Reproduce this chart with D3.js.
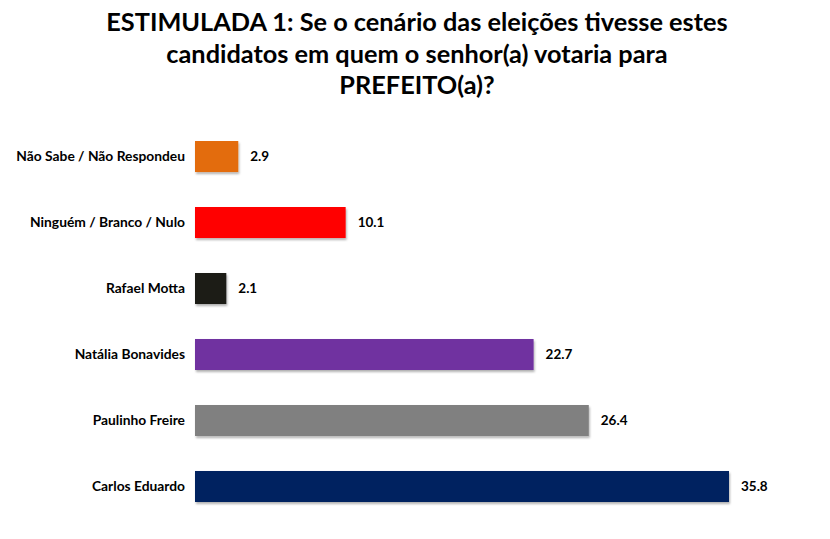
<!DOCTYPE html>
<html>
<head>
<meta charset="utf-8">
<script src="https://cdn.jsdelivr.net/npm/d3@7"></script>
<style>
  body { margin: 0; background: #fff; }
  text { font-family: Lato, "Open Sans", sans-serif; font-weight: bold; fill: #000; }
</style>
</head>
<body>
<div id="chart"></div>
<script>
// chart values, top to bottom as in the picture
var categories = ["Não Sabe / Não Respondeu", "Ninguém / Branco / Nulo", "Rafael Motta",
  "Natália Bonavides", "Paulinho Freire", "Carlos Eduardo"];
var values = [2.9, 10.1, 2.1, 22.7, 26.4, 35.8];
var barColors = ["#E36C0A", "#FF0000", "#1F1A17", "#7030A0", "#808080", "#002060"];
var titleLines = ["ESTIMULADA 1: Se o cenário das eleições tivesse estes",
  "candidatos em quem o senhor(a) votaria para", "PREFEITO(a)?"];

var width = 830, height = 539;

var svg = d3.select("#chart").append("svg")
  .attr("width", width)
  .attr("height", height);

// soft drop shadow like the office chart
var defs = svg.append("defs");
var f = defs.append("filter").attr("id", "shadow")
  .attr("x", "-5%").attr("y", "-20%").attr("width", "115%").attr("height", "160%");
f.append("feDropShadow").attr("dx", 1).attr("dy", 2).attr("stdDeviation", 1.2)
  .attr("flood-color", "#000").attr("flood-opacity", 0.3);

// title
svg.append("g").selectAll("text")
  .data(titleLines)
  .enter().append("text")
  .attr("x", 417)
  .attr("y", function (d, i) { return 31 + i * 31.5; })
  .attr("text-anchor", "middle")
  .style("font-size", "25.3px")
  .text(function (d) { return d; });

var x = d3.scaleLinear().domain([0, 35.8]).range([195, 729]);

var y = d3.scaleBand()
  .domain(categories)
  .range([141, 502])
  .paddingInner(0.53)
  .paddingOuter(0);

var row = svg.append("g").selectAll("g")
  .data(categories)
  .enter().append("g");

row.append("rect")
  .attr("x", x(0))
  .attr("y", function (d) { return y(d); })
  .attr("width", function (d, i) { return x(values[i]) - x(0); })
  .attr("height", y.bandwidth())
  .attr("fill", function (d, i) { return barColors[i]; })
  .attr("filter", "url(#shadow)");

// category labels
row.append("text")
  .attr("x", 185)
  .attr("y", function (d) { return y(d) + y.bandwidth() / 2; })
  .attr("dy", "0.35em")
  .attr("text-anchor", "end")
  .style("font-size", "13.8px")
  .text(function (d) { return d; });

// value labels
row.append("text")
  .attr("x", function (d, i) { return x(values[i]) + 12; })
  .attr("y", function (d) { return y(d) + y.bandwidth() / 2; })
  .attr("dy", "0.35em")
  .style("font-size", "13.5px")
  .text(function (d, i) { return values[i].toFixed(1); });
</script>
</body>
</html>
